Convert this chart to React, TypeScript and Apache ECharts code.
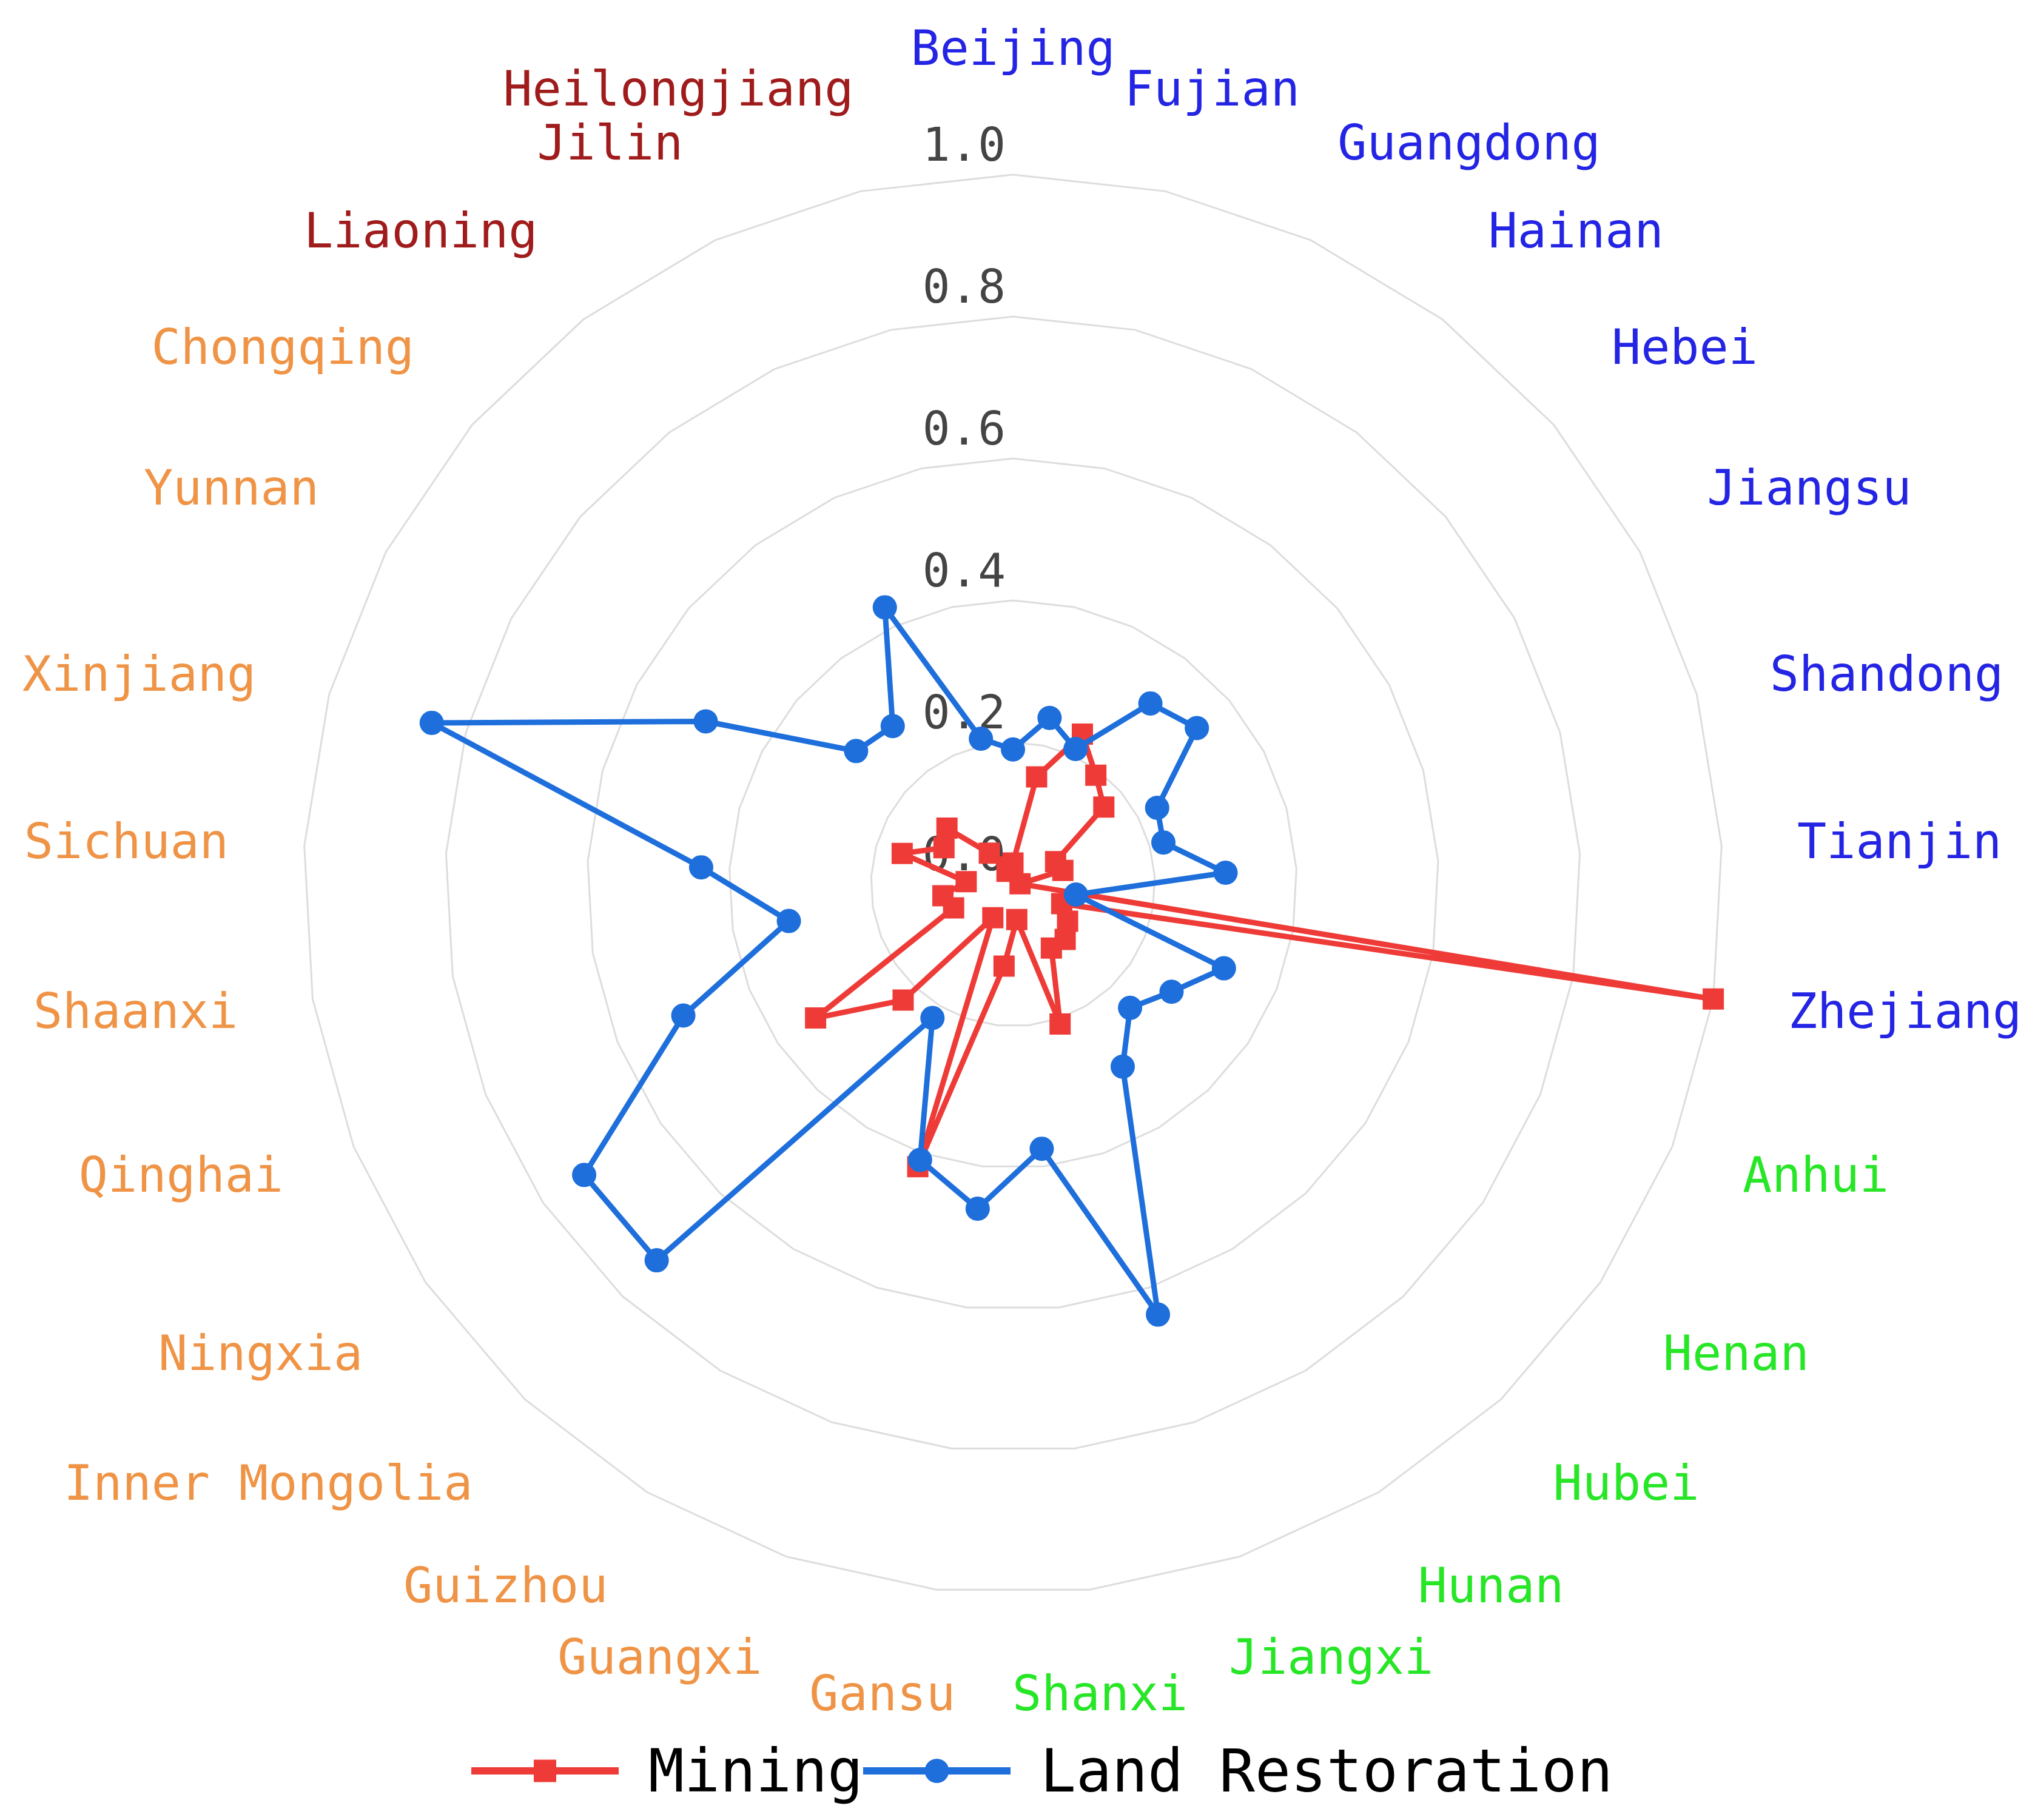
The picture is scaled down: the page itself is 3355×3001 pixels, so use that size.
import React, { useEffect, useRef } from 'react';
import * as echarts from 'echarts';

// Provinces in clockwise order starting from the top
const provinces = [
  'Beijing', 'Fujian', 'Guangdong', 'Hainan', 'Hebei', 'Jiangsu', 'Shandong', 'Tianjin', 'Zhejiang',
  'Anhui', 'Henan', 'Hubei', 'Hunan', 'Jiangxi', 'Shanxi',
  'Gansu', 'Guangxi', 'Guizhou', 'Inner Mongolia', 'Ningxia', 'Qinghai', 'Shaanxi', 'Sichuan', 'Xinjiang', 'Yunnan', 'Chongqing',
  'Liaoning', 'Jilin', 'Heilongjiang',
];
const provinceRegion = [
  'East', 'East', 'East', 'East', 'East', 'East', 'East', 'East', 'East',
  'Central', 'Central', 'Central', 'Central', 'Central', 'Central',
  'West', 'West', 'West', 'West', 'West', 'West', 'West', 'West', 'West', 'West', 'West',
  'Northeast', 'Northeast', 'Northeast',
];
const regionColor: Record<string, string> = {
  East: '#2424e4',
  Central: '#26e626',
  West: '#ef9446',
  Northeast: '#a01c1c',
};

const seriesNames = ['Mining', 'Land Restoration'];
const mining = [
  0.03, 0.155, 0.233, 0.193, 0.168, 0.068, 0.073, 0.01, 1.0,
  0.074, 0.093, 0.107, 0.105, 0.208, 0.05,
  0.116, 0.42, 0.055, 0.225, 0.336, 0.09, 0.1, 0.066, 0.162, 0.11, 0.122,
  0.055, 0.02, 0.025,
];
const landRestoration = [
  0.19, 0.24, 0.21, 0.32, 0.34, 0.23, 0.22, 0.3, 0.09,
  0.32, 0.27, 0.24, 0.3, 0.64, 0.375,
  0.46, 0.41, 0.22, 0.73, 0.73, 0.5, 0.32, 0.44, 0.85, 0.49, 0.29,
  0.28, 0.43, 0.21,
];
const radialMin = 0;
const radialMax = 1;
const radialSplits = 5;

const seriesColors = ['#ee3b37', '#1e6fdb'];

// layout constants
const CX = 1670;
const CY = 1458;
const RADIUS = 1170;
const NAME_GAP = 125;
const TOP_EXTRA_GAP = 37;
const NAME_SIZE = 80;
const NAME_LINE = 94;
const FONT = 'DejaVu Sans Mono';

// ECharts radar runs counter-clockwise; reorder so the visual order is clockwise
function clockwise<T>(arr: T[]): T[] {
  return [arr[0], ...arr.slice(1).reverse()];
}

function measure(text: string, size: number): number {
  const c = document.createElement('canvas').getContext('2d');
  if (!c) return text.length * size * 0.602;
  c.font = `${size}px "${FONT}"`;
  return c.measureText(text).width;
}

export default function App() {
  const ref = useRef<HTMLDivElement>(null);

  useEffect(() => {
    document.body.style.margin = '0';
    if (!ref.current) return;
    const chart = echarts.init(ref.current, undefined, { renderer: 'svg' });

    const names = clockwise(provinces);

    const indicator = names.map((name, i) => {
      const item: any = { name, min: radialMin, max: radialMax };
      if (i === 0) {
        item.axisLabel = {
          show: true,
          fontSize: 76,
          fontFamily: FONT,
          color: '#444444',
          margin: 12,
          align: 'right',
          verticalAlign: 'bottom',
          lineHeight: 100,
          formatter: (v: number) => v.toFixed(1),
        };
      }
      return item;
    });

    // province names placed around the radar (clockwise from the top)
    const n = provinces.length;
    const nameTexts = provinces.map((name, i) => {
      const ang = (i * 2 * Math.PI) / n;
      const s = Math.sin(ang);
      const c = Math.cos(ang);
      const onAxis = Math.abs(s) < 1e-6;
      const rr = RADIUS + NAME_GAP + (onAxis ? TOP_EXTRA_GAP : 0);
      const w = measure(name, NAME_SIZE);
      const t = onAxis ? 0 : Math.max(-1, Math.min(1, s / 0.333 - 0.3));
      const x = CX + rr * s + (w / 2) * t;
      const y = CY - rr * c;
      const va = c > 0.42 ? 'bottom' : c < -0.42 ? 'top' : 'middle';
      return {
        type: 'text',
        x,
        y,
        silent: true,
        style: {
          text: name,
          fill: regionColor[provinceRegion[i]],
          fontSize: NAME_SIZE,
          fontFamily: FONT,
          lineHeight: NAME_LINE,
          align: 'center',
          verticalAlign: va,
          textAlign: 'center',
          textVerticalAlign: va,
        },
      };
    });

    const miningIcon = 'path://M0,14h243v12h-243z M103,1.5h37v37h-37z';
    const landIcon = 'path://M0,14h243v12h-243z M101.5,20a20,20 0 1,1 40,0a20,20 0 1,1 -40,0z';

    chart.setOption({
      animation: false,
      backgroundColor: '#ffffff',
      legend: {
        data: [
          { name: seriesNames[0], icon: miningIcon },
          { name: seriesNames[1], icon: landIcon },
        ],
        left: 772,
        top: 2866,
        itemWidth: 243,
        itemHeight: 40,
        itemGap: 0,
        textStyle: {
          fontSize: 98,
          fontFamily: FONT,
          color: '#000000',
          padding: [0, 0, 0, 44],
        },
      },
      radar: {
        center: [CX, CY],
        radius: RADIUS,
        startAngle: 90,
        splitNumber: radialSplits,
        shape: 'polygon',
        nameGap: NAME_GAP,
        axisName: { show: false },
        axisLine: { show: false },
        axisTick: { show: false },
        axisLabel: { show: false },
        splitLine: { lineStyle: { color: '#dddddd', width: 3 } },
        splitArea: { show: false },
        indicator,
      },
      graphic: nameTexts,
      series: [
        {
          type: 'radar',
          name: seriesNames[0],
          symbol: 'rect',
          symbolSize: 35,
          color: seriesColors[0],
          itemStyle: { color: seriesColors[0] },
          lineStyle: { color: seriesColors[0], width: 9 },
          z: 2,
          data: [{ name: seriesNames[0], value: clockwise(mining) }],
        },
        {
          type: 'radar',
          name: seriesNames[1],
          symbol: 'circle',
          symbolSize: 40,
          color: seriesColors[1],
          itemStyle: { color: seriesColors[1] },
          lineStyle: { color: seriesColors[1], width: 9 },
          z: 3,
          data: [{ name: seriesNames[1], value: clockwise(landRestoration) }],
        },
      ],
    });

    return () => chart.dispose();
  }, []);

  return <div ref={ref} style={{ width: 3355, height: 3001 }} />;
}
